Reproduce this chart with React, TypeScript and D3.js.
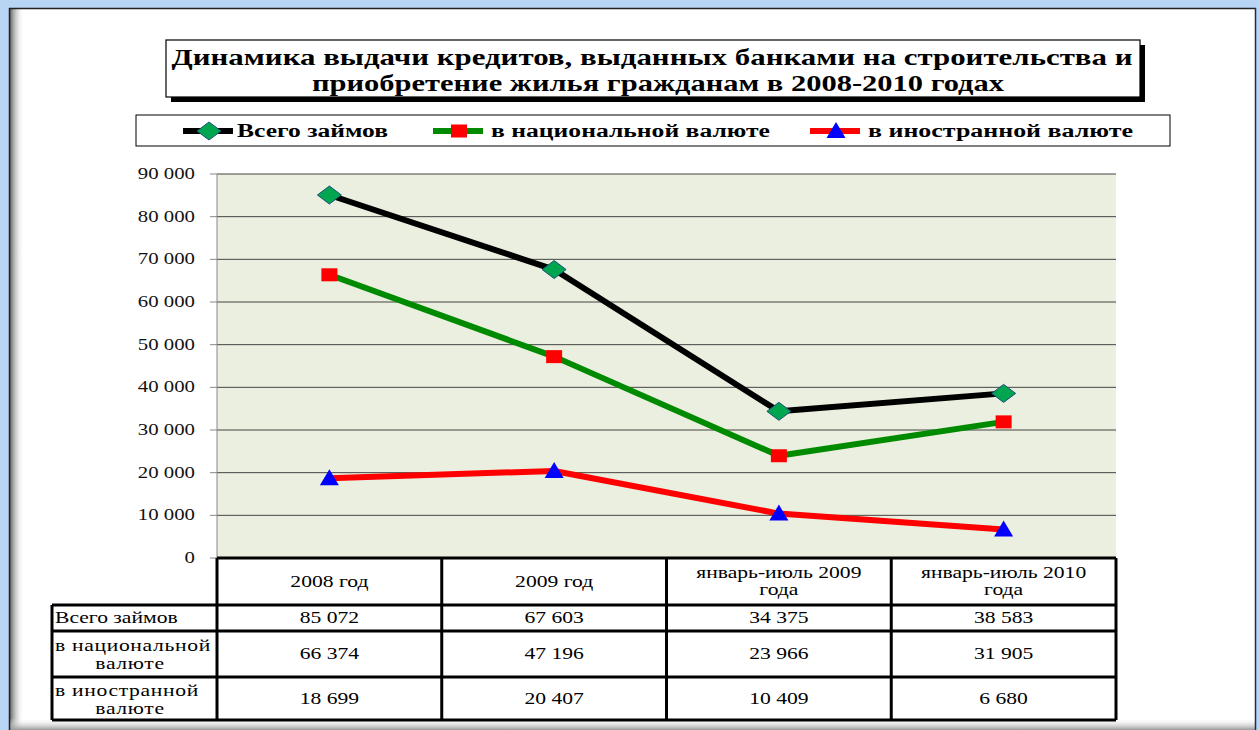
import React from "react";
import * as d3 from "d3";

const categories = ["2008 год", "2009 год", "январь-июль 2009 года", "январь-июль 2010 года"];
const categoryLines = [["2008 год"], ["2009 год"], ["январь-июль 2009", "года"], ["январь-июль 2010", "года"]];
const totalLoans = [85072, 67603, 34375, 38583];
const nationalCurrency = [66374, 47196, 23966, 31905];
const foreignCurrency = [18699, 20407, 10409, 6680];
const seriesNames = ["Всего займов", "в национальной валюте", "в иностранной валюте"];
const rowHeaderLines = [["Всего займов"], ["в национальной", "валюте"], ["в иностранной", "валюте"]];
const yTicks = [0, 10000, 20000, 30000, 40000, 50000, 60000, 70000, 80000, 90000];
const titleLines = [
  "Динамика выдачи кредитов, выданных банками на строительства и",
  "приобретение жилья гражданам в 2008-2010 годах",
];

const serif = "Liberation Serif, Times New Roman, serif";

function T(props: { x: number; y: number; anchor?: string; size?: number; sx?: number; weight?: string; fill?: string; ls?: number; children: React.ReactNode }) {
  const { x, y, anchor = "start", size = 16, sx = 1.35, weight = "normal", fill = "#000", ls = 0, children } = props;
  return (
    <text transform={`translate(${x},${y}) scale(${sx},1)`} textAnchor={anchor} fontFamily={serif}
      fontSize={size} fontWeight={weight} fill={fill} letterSpacing={ls}>{children}</text>
  );
}

export default function App() {
  const W = 1259, H = 730;
  const plotL = 217, plotR = 1116, plotT = 174, plotB = 558;
  const x = d3.scaleBand<string>().domain(categories).range([plotL, plotR]);
  const y = d3.scaleLinear().domain([0, 90000]).range([plotB, plotT]);
  const fmt = (v: number) => d3.format(",")(v).replace(/,/g, " ");
  const cx = (c: string) => (x(c) as number) + x.bandwidth() / 2;

  const series = [
    { name: seriesNames[0], values: totalLoans, color: "#000000", marker: "diamond" },
    { name: seriesNames[1], values: nationalCurrency, color: "#008a00", marker: "square" },
    { name: seriesNames[2], values: foreignCurrency, color: "#ff0000", marker: "triangle" },
  ];

  const line = d3.line<number>().x((_, i) => cx(categories[i])).y((v) => y(v));

  const marker = (type: string, px: number, py: number, key: string) => {
    if (type === "diamond")
      return (
        <path key={key} d={`M${px - 12},${py} L${px},${py - 9} L${px + 12},${py} L${px},${py + 9} Z`}
          fill="#00a550" stroke="#1f4e79" strokeWidth={1} />
      );
    if (type === "square")
      return <rect key={key} x={px - 8} y={py - 6.5} width={16} height={13} fill="#ff0000" />;
    return <path key={key} d={`M${px},${py - 9} L${px + 9.5},${py + 7} L${px - 9.5},${py + 7} Z`} fill="#0000ff" />;
  };

  const headerTop = plotB, headerBot = 605;
  const rowBounds = [605, 631, 677, 720];
  const rowHeadL = 52;
  const tableRows = [totalLoans, nationalCurrency, foreignCurrency];

  const legendItems = [
    { lx: 183, tx: 237, tw: 151, s: series[0] },
    { lx: 433, tx: 491, tw: 279, s: series[1] },
    { lx: 810, tx: 868, tw: 265, s: series[2] },
  ];

  return (
    <svg width={W} height={H} style={{ position: "absolute", left: 0, top: 0 }}>
      <defs>
        <linearGradient id="lshadow" x1="0" x2="1" y1="0" y2="0">
          <stop offset="0" stopColor="#666" />
          <stop offset="1" stopColor="#fff" stopOpacity={0} />
        </linearGradient>
        <linearGradient id="bshadow" x1="0" x2="0" y1="0" y2="1">
          <stop offset="0" stopColor="#fff" stopOpacity={0} />
          <stop offset="1" stopColor="#999" />
        </linearGradient>
      </defs>
      <rect x={0} y={0} width={W} height={H} fill="#b9d5f5" />
      <rect x={9} y={8} width={1247} height={H - 8} fill="#ffffff" />
      <rect x={10} y={9} width={14} height={H - 9} fill="url(#lshadow)" />
      <rect x={10} y={718} width={1245} height={12} fill="url(#bshadow)" />
      <line x1={9.5} y1={8} x2={9.5} y2={H} stroke="#222" strokeWidth={1.5} />
      <line x1={9} y1={8.5} x2={1256} y2={8.5} stroke="#222" strokeWidth={1.5} />
      <line x1={1255.5} y1={8} x2={1255.5} y2={H} stroke="#1c2e40" strokeWidth={1.5} />

      <rect x={171} y={45} width={974} height={57} fill="#000" />
      <rect x={166} y={40} width={974} height={57} fill="#fff" stroke="#000" strokeWidth={1.2} />
      <text x={652} y={65} textAnchor="middle" fontFamily={serif} fontWeight="bold" fontSize={23}
        textLength={961} lengthAdjust="spacingAndGlyphs">{titleLines[0]}</text>
      <text x={658} y={91} textAnchor="middle" fontFamily={serif} fontWeight="bold" fontSize={23}
        textLength={692} lengthAdjust="spacingAndGlyphs">{titleLines[1]}</text>

      <rect x={136} y={115} width={1034} height={31} fill="#fff" stroke="#000" strokeWidth={1} />
      {legendItems.map((it, i) => (
        <g key={i}>
          <line x1={it.lx} x2={it.lx + 50} y1={131} y2={131} stroke={it.s.color} strokeWidth={6} />
          {marker(it.s.marker, it.lx + 26, 131, "lm" + i)}
          <text x={it.tx} y={137} fontFamily={serif} fontWeight="bold" fontSize={18}
            textLength={it.tw} lengthAdjust="spacingAndGlyphs">{it.s.name}</text>
        </g>
      ))}

      <rect x={plotL} y={plotT} width={plotR - plotL} height={plotB - plotT} fill="#ebefdf" />
      {yTicks.map((t) => (
        <g key={t}>
          {t > 0 && <line x1={plotL} x2={plotR} y1={y(t)} y2={y(t)} stroke="#444" strokeWidth={1} />}
          <line x1={210} x2={plotL} y1={y(t)} y2={y(t)} stroke="#888" strokeWidth={1} />
          <T x={195} y={y(t) + 5} anchor="end" size={16} sx={1.3} fill="#111">{fmt(t)}</T>
        </g>
      ))}
      <line x1={plotL} x2={plotL} y1={plotT} y2={plotB} stroke="#888" strokeWidth={1} />

      {series.map((s, si) => (
        <path key={si} d={line(s.values) as string} fill="none" stroke={s.color} strokeWidth={6}
          strokeLinejoin="round" />
      ))}
      {series.map((s, si) => s.values.map((v, i) => marker(s.marker, cx(categories[i]), y(v), `m${si}-${i}`)))}

      <rect x={plotL} y={headerTop} width={plotR - plotL} height={headerBot - headerTop} fill="#fff" />
      <rect x={rowHeadL} y={headerBot} width={plotR - rowHeadL} height={rowBounds[3] - headerBot} fill="#fff" />
      {categories.map((c, i) => (
        <g key={c}>
          {categoryLines[i].map((ln, k) => (
            <T key={k} x={cx(c)} anchor="middle" y={categoryLines[i].length === 1 ? 587 : 578 + k * 17}>{ln}</T>
          ))}
        </g>
      ))}
      {tableRows.map((vals, r) => {
        const top = r === 0 ? headerBot : rowBounds[r];
        const bot = rowBounds[r + 1];
        const mid = (top + bot) / 2;
        return (
          <g key={r}>
            {vals.map((v, i) => (
              <T key={i} x={cx(categories[i])} y={mid + 5} anchor="middle">{fmt(v)}</T>
            ))}
            {rowHeaderLines[r].length === 1 ? (
              <T x={55} y={mid + 5}>{rowHeaderLines[r][0]}</T>
            ) : (
              <>
                <T x={55} y={mid - 3} ls={0.5}>{rowHeaderLines[r][0]}</T>
                <T x={130} y={mid + 15} anchor="middle" ls={0.5}>{rowHeaderLines[r][1]}</T>
              </>
            )}
          </g>
        );
      })}
      <g stroke="#000" strokeWidth={3} fill="none">
        <line x1={plotL} x2={plotR} y1={headerTop} y2={headerTop} />
        <line x1={rowHeadL} x2={plotR} y1={headerBot} y2={headerBot} />
        {rowBounds.slice(1).map((b) => (
          <line key={b} x1={rowHeadL} x2={plotR} y1={b} y2={b} />
        ))}
        <line x1={rowHeadL} x2={rowHeadL} y1={headerBot} y2={rowBounds[3]} />
        {categories.map((c) => (
          <line key={c} x1={x(c) as number} x2={x(c) as number} y1={headerTop} y2={rowBounds[3]} />
        ))}
        <line x1={plotR} x2={plotR} y1={headerTop} y2={rowBounds[3]} />
      </g>
    </svg>
  );
}
